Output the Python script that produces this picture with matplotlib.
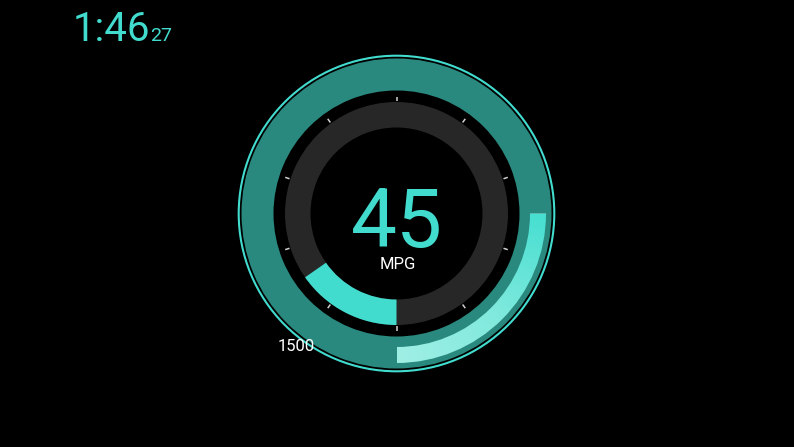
import numpy as np
import matplotlib
matplotlib.use('Agg')
import matplotlib.pyplot as plt
from matplotlib.patches import Wedge, Circle
from matplotlib.colors import LinearSegmentedColormap

# gauge readings
mpg_value = 45
mpg_unit = 'MPG'
mpg_fill = 0.153       # share of the inner ring that is lit
outer_fill = 0.25      # share of the outer ring that is lit
outer_label = '1500'
clock_main = '1:46'
clock_sec = '27'
tick_count = 10

W, H = 794, 447
cx, cy = 396.5, H - 213.5

cyan = '#42dccf'
teal = '#2a897e'
dark = '#272727'

plt.rcParams['font.family'] = ['Roboto', 'DejaVu Sans']

fig = plt.figure(figsize=(W / 100, H / 100), dpi=100, facecolor='black')
ax = fig.add_axes([0, 0, 1, 1])
ax.set_xlim(0, W)
ax.set_ylim(0, H)
ax.set_aspect('equal')
ax.axis('off')
ax.set_facecolor('black')

# thin outline + outer band
ax.add_patch(Circle((cx, cy), 157.8, fill=False, ec=cyan, lw=1.5))
ax.add_patch(Wedge((cx, cy), 155, 0, 360, width=32, color=teal, lw=0))

# lit part of outer band, gradient along the arc
a0 = 270
a1 = 270 + 360 * outer_fill
arc = Wedge((cx, cy), 149.5, a0, a1, width=16, lw=0, fc='none')
ax.add_patch(arc)
xs = np.linspace(cx, cx + 151, 200)
ys = np.linspace(cy - 151, cy, 200)
gx, gy = np.meshgrid(xs, ys)
ang = np.degrees(np.arctan2(gy - cy, gx - cx)) % 360
grad = LinearSegmentedColormap.from_list('g', ['#a0efe5', '#80e9dd', '#46dfd1'])
im = ax.imshow((ang - a0) / (a1 - a0), extent=(xs[0], xs[-1], ys[0], ys[-1]),
               origin='lower', cmap=grad, vmin=0, vmax=1, zorder=3)
im.set_clip_path(arc)

# inner dark ring and its lit section
ax.add_patch(Wedge((cx, cy), 111.5, 0, 360, width=25.5, color=dark, lw=0))
ax.add_patch(Wedge((cx, cy), 111.5, 270 - 360 * mpg_fill, 270, width=25.5, color=cyan, lw=0))

# tick marks
for k in range(tick_count):
    t = np.radians(90 + k * 360 / tick_count)
    ax.plot([cx + 112.5 * np.cos(t), cx + 117 * np.cos(t)],
            [cy + 112.5 * np.sin(t), cy + 117 * np.sin(t)],
            color='#d0d0d0', lw=1.1, solid_capstyle='butt')

ax.text(cx, H - 246.5, str(mpg_value), color=cyan, fontsize=59, ha='center', va='baseline')
ax.text(cx + 1.5, H - 269, mpg_unit, color='white', fontsize=12, ha='center', va='baseline')
ax.text(296, H - 351, outer_label, color='white', fontsize=12, ha='center', va='baseline')

# clock
t1 = ax.text(73, H - 40.7, clock_main, color=cyan, fontsize=29, ha='left', va='baseline')
fig.canvas.draw()
bb = t1.get_window_extent()
ax.text(bb.x1 - 0.5, H - 40.7, clock_sec, color=cyan, fontsize=14, ha='left', va='baseline')

fig.savefig('out.png', dpi=100, facecolor='black')
